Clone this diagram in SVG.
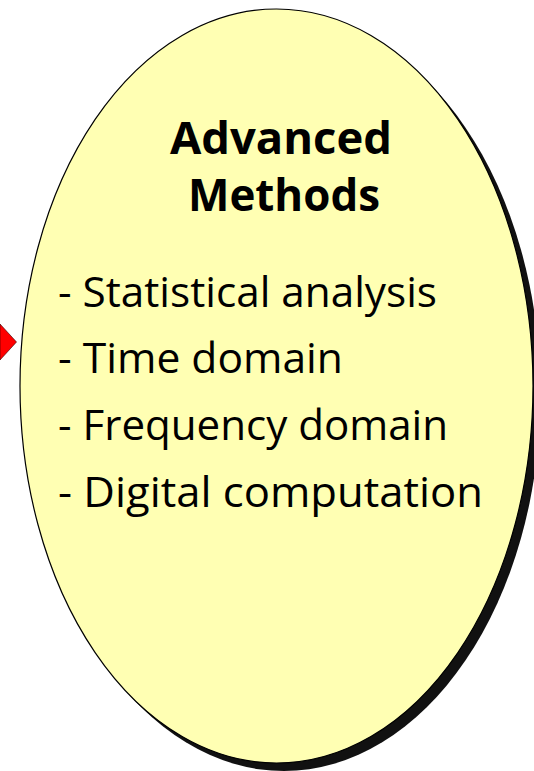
<svg xmlns="http://www.w3.org/2000/svg" width="534" height="771" viewBox="0 0 534 771">
  <style>
    .title { font-family: "Open Sans", "Noto Sans", "DejaVu Sans", sans-serif; font-weight: bold; font-size: 45px; fill: #000; }
    .item { font-family: "Open Sans", "Noto Sans", "DejaVu Sans", sans-serif; font-size: 42px; fill: #000; }
  </style>
  <rect width="534" height="771" fill="#ffffff"/>
  <g id="connectors">
    <polygon points="0,324 16.5,342 0,360" fill="#ff0000" stroke="#300" stroke-width="0.6"/>
  </g>
  <g id="advanced-methods">
    <ellipse cx="284" cy="394" rx="256.5" ry="377" fill="#111111"/>
    <ellipse cx="276.5" cy="386" rx="256.5" ry="377" fill="#ffffb3" stroke="#000" stroke-width="1.2"/>
    <text class="title" x="281" y="154" text-anchor="middle" textLength="222" lengthAdjust="spacingAndGlyphs">Advanced</text>
    <text class="title" x="284" y="211" text-anchor="middle" textLength="192" lengthAdjust="spacingAndGlyphs">Methods</text>
    <text class="item" x="58" y="307" textLength="379" lengthAdjust="spacingAndGlyphs">- Statistical analysis</text>
    <text class="item" x="58" y="373" textLength="285" lengthAdjust="spacingAndGlyphs">- Time domain</text>
    <text class="item" x="58" y="440" textLength="390" lengthAdjust="spacingAndGlyphs">- Frequency domain</text>
    <text class="item" x="58" y="507" textLength="425" lengthAdjust="spacingAndGlyphs">- Digital computation</text>
  </g>
</svg>
